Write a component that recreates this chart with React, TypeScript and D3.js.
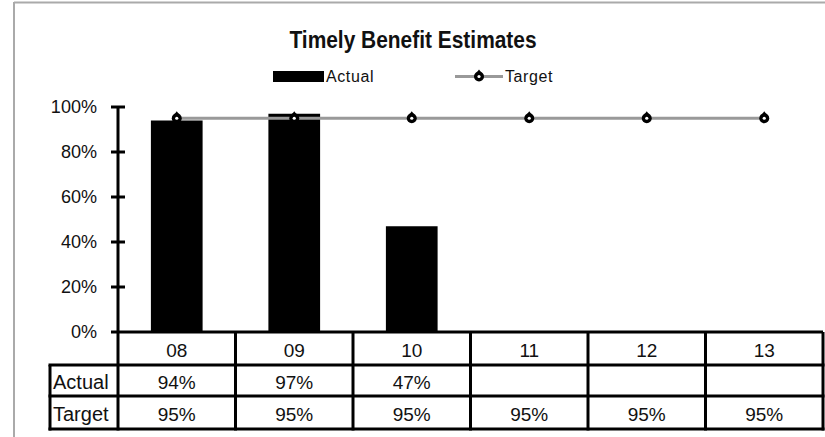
import React, { useEffect, useRef } from "react";
import * as d3 from "d3";

const categories = ["08", "09", "10", "11", "12", "13"];
const actual: (number | null)[] = [0.94, 0.97, 0.47, null, null, null];
const target: number[] = [0.95, 0.95, 0.95, 0.95, 0.95, 0.95];
const yTicks = [0, 0.2, 0.4, 0.6, 0.8, 1.0];
const rowLabels = ["Actual", "Target"];

const W = 825;
const H = 437;
const FONT = "Arial, 'Liberation Sans', sans-serif";

export default function App() {
  const ref = useRef<SVGSVGElement>(null);

  useEffect(() => {
    const svg = d3.select(ref.current);
    svg.selectAll("*").remove();

    const left = 118;
    const right = 823;
    const top = 107;
    const bottom = 332;
    const rowH = [332, 365, 396, 429];
    const labelLeft = 50;

    const x = d3.scaleBand<string>().domain(categories).range([left, right]).padding(0);
    const y = d3.scaleLinear().domain([0, 1]).range([bottom, top]);
    const barW = x.bandwidth() * 0.44;
    const cx = (c: string) => (x(c) as number) + x.bandwidth() / 2;

    svg.append("rect").attr("width", W).attr("height", H).attr("fill", "#fff");

    // outer frame
    svg.append("line").attr("x1", 14).attr("x2", W).attr("y1", 2.5).attr("y2", 2.5)
      .attr("stroke", "#aaa").attr("stroke-width", 2);
    svg.append("line").attr("x1", 14).attr("x2", 14).attr("y1", 2).attr("y2", H)
      .attr("stroke", "#aaa").attr("stroke-width", 2);

    // title (slightly condensed)
    svg.append("text").attr("transform", "translate(413,48) scale(0.91,1)").attr("text-anchor", "middle")
      .attr("font-family", FONT).attr("font-weight", "bold").attr("font-size", 23)
      .attr("fill", "#111").text("Timely Benefit Estimates");

    const marker = (g: d3.Selection<SVGGElement, unknown, null, undefined>) => {
      g.append("circle").attr("r", 5).attr("fill", "#000");
      g.append("path").attr("d", "M0,-7L3,-3L-3,-3Z").attr("fill", "#000");
      g.append("circle").attr("r", 1.6).attr("fill", "#fff");
    };

    // legend
    svg.append("rect").attr("x", 273).attr("y", 71).attr("width", 51).attr("height", 11).attr("fill", "#000");
    svg.append("text").attr("x", 326).attr("y", 82).attr("font-family", FONT).attr("font-size", 16)
      .attr("letter-spacing", 0.6).attr("fill", "#111").text("Actual");
    svg.append("line").attr("x1", 455).attr("x2", 503).attr("y1", 76.5).attr("y2", 76.5)
      .attr("stroke", "#999").attr("stroke-width", 3);
    marker(svg.append("g").attr("transform", "translate(479,76.5)"));
    svg.append("text").attr("x", 505).attr("y", 82).attr("font-family", FONT).attr("font-size", 16)
      .attr("letter-spacing", 0.6).attr("fill", "#111").text("Target");

    // bars
    categories.forEach((c, i) => {
      const v = actual[i];
      if (v == null) return;
      svg.append("rect").attr("x", cx(c) - barW / 2).attr("y", y(v))
        .attr("width", barW).attr("height", y(0) - y(v)).attr("fill", "#000");
    });

    // target line + markers
    const line = d3.line<number>().x((_, i) => cx(categories[i])).y((d) => y(d));
    svg.append("path").attr("d", line(target) as string).attr("fill", "none")
      .attr("stroke", "#999").attr("stroke-width", 3);
    target.forEach((t, i) => {
      marker(svg.append("g").attr("transform", `translate(${cx(categories[i])},${y(t)})`));
    });

    // y axis
    svg.append("line").attr("x1", left).attr("x2", left).attr("y1", top).attr("y2", rowH[3] + 1.5)
      .attr("stroke", "#000").attr("stroke-width", 3);
    yTicks.forEach((t) => {
      svg.append("line").attr("x1", 111).attr("x2", t === 0 ? left : 125).attr("y1", y(t)).attr("y2", y(t))
        .attr("stroke", "#000").attr("stroke-width", 3);
      svg.append("text").attr("transform", `translate(97,${y(t) - 1}) scale(0.95,1)`)
        .attr("dy", "0.35em").attr("text-anchor", "end")
        .attr("font-family", FONT).attr("font-size", 19).attr("fill", "#111")
        .text(d3.format(".0%")(t));
    });

    // data table
    const tl = (x1: number, x2: number, y1: number, y2: number) =>
      svg.append("line").attr("x1", x1).attr("x2", x2).attr("y1", y1).attr("y2", y2)
        .attr("stroke", "#000").attr("stroke-width", 3);
    tl(left, right, rowH[0], rowH[0]);
    for (let r = 1; r < rowH.length; r++) tl(labelLeft - 1.5, right + 1.5, rowH[r], rowH[r]);
    tl(labelLeft, labelLeft, rowH[1], rowH[3] + 1.5);
    categories.forEach((c) => tl((x(c) as number) + x.bandwidth(), (x(c) as number) + x.bandwidth(), rowH[0], rowH[3] + 1.5));

    const cellText = (tx: number, ty: number, s: string, anchor = "middle", size = 19) =>
      svg.append("text").attr("x", tx).attr("y", ty).attr("text-anchor", anchor)
        .attr("font-family", FONT).attr("font-size", size).attr("fill", "#111").text(s);

    categories.forEach((c, i) => {
      cellText(cx(c), 357, c);
      const a = actual[i];
      if (a != null) cellText(cx(c), 389, d3.format(".0%")(a));
      cellText(cx(c), 421, d3.format(".0%")(target[i]));
    });
    cellText(53, 389, rowLabels[0], "start", 20);
    cellText(53, 421, rowLabels[1], "start", 20);
  }, []);

  return (
    <svg ref={ref} width={W} height={H}
      style={{ position: "fixed", left: 0, top: 0, display: "block" }} />
  );
}
